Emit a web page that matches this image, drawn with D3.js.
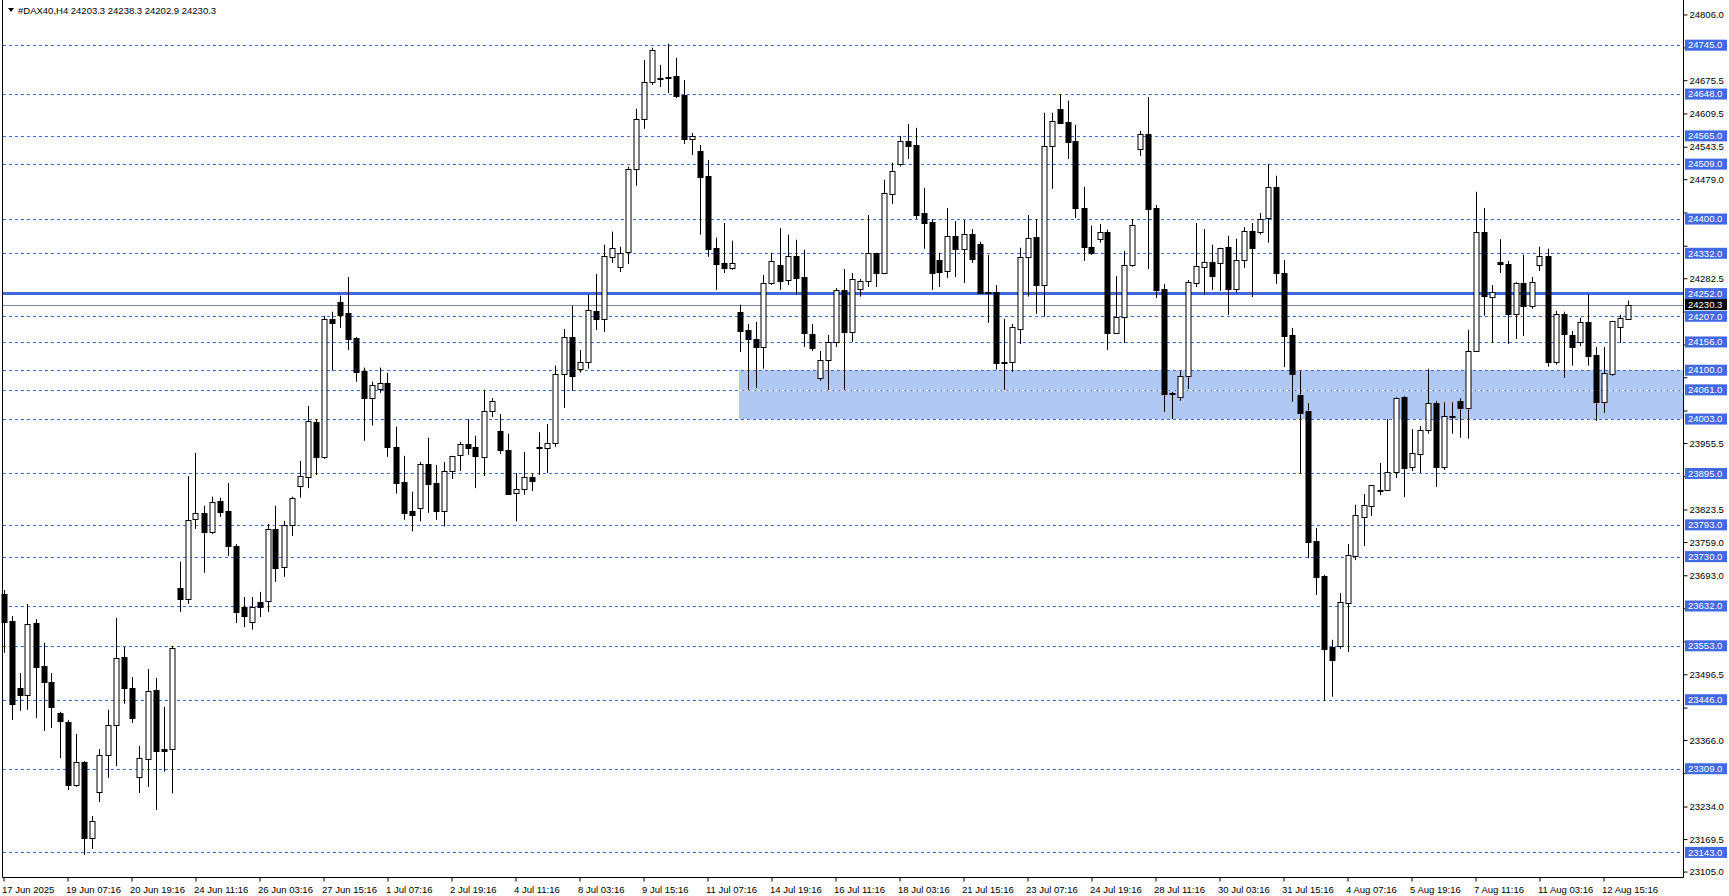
<!DOCTYPE html>
<html lang="en">
<head>
  <meta charset="UTF-8">
  <title>#DAX40,H4</title>
  <script src="https://d3js.org/d3.v7.min.js"></script>
  <style>
    body { margin: 0; background: #fff; }
    svg text { font-family: "Liberation Sans", Arial, sans-serif; font-size: 9.5px; }
  </style>
</head>
<body>
  <svg id="chart" width="1729" height="896"></svg>

  <script>
    // H4 candles, 17 Jun 2025 .. 12 Aug 2025
    const opens = [23656,23602,23469,23455,23598,23513,23481,23420,23402,23277,23322,23172,23263,23336,23396,23531,23469,23293,23328,23465,
      23348,23348,23668,23646,23805,23817,23779,23841,23821,23751,23630,23600,23640,23643,23785,23710,23793,23871,23888,23997,
      23928,24202,24236,24214,24164,24099,24045,24063,24075,23948,23878,23821,23827,23914,23876,23821,23900,23932,23954,23948,
      23928,24019,23980,23942,23857,23865,23888,23948,23946,23956,24093,24166,24103,24117,24218,24202,24325,24305,24335,24500,
      24599,24672,24680,24682,24684,24646,24559,24535,24486,24343,24313,24303,24216,24180,24162,24146,24273,24309,24279,24327,
      24285,24172,24085,24121,24156,24259,24176,24261,24277,24333,24293,24450,24509,24555,24547,24412,24394,24319,24297,24366,
      24341,24370,24351,24255,24255,24117,24117,24182,24325,24365,24269,24545,24619,24593,24555,24422,24345,24361,24375,24174,
      24206,24309,24539,24569,24422,24261,24055,24047,24089,24273,24305,24315,24313,24345,24261,24319,24377,24374,24402,24464,
      24293,24170,24051,24019,23761,23692,23551,23553,23638,23731,23809,23831,23862,23862,23898,24047,23908,23934,23981,24035,
      23908,24009,24039,24025,24138,24374,24246,24315,24311,24212,24273,24228,24309,24327,24117,24212,24170,24156,24196,24130,
      24037,24093,24186,24203.3];
    const highs = [23664,23612,23499,23636,23606,23559,23499,23422,23406,23378,23324,23215,23348,23426,23608,23551,23491,23354,23507,23489,
      23432,23553,23720,23890,23936,23831,23849,23847,23876,23755,23650,23650,23660,23795,23831,23801,23849,23920,24029,24003,
      24208,24216,24248,24285,24166,24105,24077,24105,24095,23988,23930,23859,23918,23966,23912,23918,23930,23958,24003,23970,
      24061,24045,24013,23974,23896,23938,23895,23977,23993,24109,24182,24228,24140,24250,24291,24349,24375,24345,24504,24619,
      24716,24740,24706,24748,24720,24676,24571,24547,24517,24363,24392,24357,24230,24192,24196,24289,24333,24382,24369,24359,
      24339,24192,24138,24170,24263,24301,24293,24281,24408,24333,24478,24512,24565,24589,24581,24462,24400,24333,24422,24396,
      24398,24380,24355,24329,24269,24202,24192,24343,24408,24400,24611,24611,24648,24635,24587,24464,24387,24390,24379,24287,
      24337,24400,24575,24642,24428,24271,24057,24099,24279,24392,24380,24349,24343,24367,24361,24384,24392,24412,24509,24486,
      24319,24184,24099,24035,23787,23694,23565,23658,23755,23833,23854,23872,23916,24003,24047,24049,23983,23989,24103,24039,
      24037,24037,24045,24180,24454,24422,24269,24360,24317,24275,24329,24285,24345,24341,24218,24216,24178,24204,24251,24146,
      24146,24198,24210,24238.3];
    const lows = [23539,23406,23424,23426,23410,23384,23390,23330,23267,23273,23138,23150,23243,23291,23314,23438,23400,23261,23273,23227,
      23303,23260,23620,23636,23785,23698,23775,23809,23731,23598,23590,23585,23610,23620,23680,23690,23771,23847,23866,23892,
      23924,24099,24184,24140,24077,23960,23990,24055,23928,23855,23803,23780,23800,23817,23803,23790,23884,23900,23932,23866,
      23890,24007,23934,23853,23800,23853,23860,23892,23896,23948,24025,24059,24095,24103,24180,24176,24313,24295,24311,24466,
      24579,24666,24662,24650,24640,24549,24527,24369,24325,24259,24293,24299,24136,24061,24065,24103,24269,24259,24269,24250,
      24146,24138,24079,24061,24146,24061,24156,24246,24265,24265,24293,24430,24504,24519,24400,24341,24259,24265,24283,24285,
      24273,24313,24253,24194,24101,24061,24097,24152,24246,24212,24206,24460,24591,24519,24402,24317,24329,24353,24140,24174,
      24154,24305,24525,24301,24243,24017,24003,24039,24063,24265,24250,24259,24257,24210,24253,24303,24245,24369,24353,24271,
      24106,24037,23894,23727,23654,23444,23452,23547,23541,23723,23751,23811,23852,23862,23886,23848,23900,23896,23974,23868,
      23902,23974,23966,23964,24138,24208,24154,24293,24152,24162,24168,24222,24297,24107,24111,24085,24109,24148,24109,23999,
      24015,24089,24154,24202.9];
    const closes = [23600,23438,23455,23596,23511,23481,23432,23404,23277,23322,23172,23205,23336,23396,23529,23469,23410,23330,23463,23344,
      23344,23549,23646,23803,23817,23779,23839,23819,23751,23620,23612,23630,23630,23785,23708,23793,23847,23891,23999,23928,
      24202,24194,24210,24162,24097,24045,24071,24075,23948,23876,23817,23813,23914,23874,23821,23900,23930,23954,23946,23930,
      24019,24039,23942,23855,23865,23888,23880,23946,23956,24093,24166,24089,24117,24220,24202,24327,24343,24333,24500,24599,
      24672,24736,24678,24680,24644,24559,24565,24484,24341,24311,24303,24313,24178,24162,24146,24273,24317,24277,24327,24283,
      24174,24144,24121,24156,24259,24176,24281,24277,24333,24293,24452,24496,24555,24545,24408,24392,24293,24295,24366,24341,
      24370,24321,24253,24255,24114,24117,24186,24325,24363,24269,24545,24595,24591,24553,24422,24345,24333,24375,24174,24206,
      24309,24389,24569,24420,24259,24053,24055,24089,24275,24307,24315,24287,24343,24261,24319,24377,24343,24400,24464,24293,
      24168,24093,24015,23759,23690,23547,23525,23640,23733,23813,23833,23872,23862,23898,24045,23906,23936,23981,24035,23908,
      24009,24009,24025,24138,24374,24246,24255,24311,24212,24273,24228,24275,24327,24117,24212,24172,24146,24196,24128,24037,
      24095,24198,24204,24230.3];

    // one label every 8 bars
    const timeLabels = ["17 Jun 2025","19 Jun 07:16","20 Jun 19:16","24 Jun 11:16","26 Jun 03:16","27 Jun 15:16","1 Jul 07:16",
      "2 Jul 19:16","4 Jul 11:16","8 Jul 03:16","9 Jul 15:16","11 Jul 07:16","14 Jul 19:16","16 Jul 11:16","18 Jul 03:16",
      "21 Jul 15:16","23 Jul 07:16","24 Jul 19:16","28 Jul 11:16","30 Jul 03:16","31 Jul 15:16","4 Aug 07:16","5 Aug 19:16",
      "7 Aug 11:16","11 Aug 03:16","12 Aug 15:16"];
    const priceTicks = [24806.0,24740.5,24675.5,24609.5,24543.5,24479.0,24413.0,24347.0,24282.5,24216.5,24151.0,24086.0,
      24020.0,23955.5,23889.5,23823.5,23759.0,23693.0,23627.5,23562.0,23496.5,23430.5,23366.0,23300.5,23234.0,23169.5,23105.0];
    const levels = [24745,24648,24565,24509,24400,24332,24207,24156,24100,24061,24003,23895,23793,23730,23632,23553,23446,23309,23143];
    const keyLevel = 24252;
    const lastPrice = 24230.3;
    const zone = { from: 92, low: 24003, high: 24100 };
    const title = "#DAX40,H4  24203.3 24238.3 24202.9 24230.3";

    const svg = d3.select("#chart");
    const plotRight = 1683, plotBottom = 877;
    const blue = "#4169e1";

    const x = d3.scaleLinear().domain([0, opens.length - 1]).range([3.5, 3.5 + 8 * (opens.length - 1)]);
    const y = d3.scaleLinear().domain([23143, 24745]).range([852.4, 45.2]);

    // zone
    svg.append("rect")
      .attr("x", x(zone.from) - 0.5).attr("y", y(zone.high))
      .attr("width", plotRight - x(zone.from) + 0.5).attr("height", y(zone.low) - y(zone.high))
      .attr("fill", "#b0c8f4");

    // dashed levels
    svg.selectAll(".lvl").data(levels).join("line")
      .attr("class", "lvl")
      .attr("x1", 3).attr("x2", plotRight)
      .attr("y1", d => Math.round(y(d)) + 0.5).attr("y2", d => Math.round(y(d)) + 0.5)
      .attr("stroke", blue).attr("stroke-dasharray", "3,3");
    svg.append("line")
      .attr("x1", x(zone.from)).attr("x2", plotRight)
      .attr("y1", Math.round(y(24061)) + 0.5).attr("y2", Math.round(y(24061)) + 0.5)
      .attr("stroke", "#fff").attr("stroke-dasharray", "3,3");

    svg.append("line").attr("x1", 3).attr("x2", plotRight)
      .attr("y1", y(keyLevel)).attr("y2", y(keyLevel))
      .attr("stroke", blue).attr("stroke-width", 3);
    svg.append("line").attr("x1", 3).attr("x2", plotRight)
      .attr("y1", Math.round(y(lastPrice)) + 0.5).attr("y2", Math.round(y(lastPrice)) + 0.5)
      .attr("stroke", "#778899");

    // candles
    const bars = d3.range(opens.length);
    svg.selectAll(".wick").data(bars).join("line")
      .attr("class", "wick")
      .attr("x1", i => Math.round(x(i)) + 0.5).attr("x2", i => Math.round(x(i)) + 0.5)
      .attr("y1", i => y(highs[i])).attr("y2", i => y(lows[i]))
      .attr("stroke", "#000");
    svg.selectAll(".body").data(bars).join("rect")
      .attr("class", "body")
      .attr("x", i => Math.round(x(i)) - 2)
      .attr("y", i => Math.round(y(Math.max(opens[i], closes[i]))) + 0.5)
      .attr("width", 5)
      .attr("height", i => Math.max(1, Math.round(Math.abs(y(opens[i]) - y(closes[i])))))
      .attr("fill", i => closes[i] > opens[i] ? "#fff" : "#000")
      .attr("stroke", "#000");

    // frame
    svg.append("path")
      .attr("d", `M2.5,0V${plotBottom + 0.5}H${plotRight + 0.5}V0`)
      .attr("fill", "none").attr("stroke", "#000");

    // price axis (labels hidden where a level tag sits on top, as in the terminal)
    const tagged = levels.concat([keyLevel, lastPrice]);
    const yAxis = d3.axisRight(y).tickValues(priceTicks).tickFormat(d3.format(".1f")).tickSize(4).tickPadding(2);
    const ya = svg.append("g").attr("transform", `translate(${plotRight + 0.5},0)`).call(yAxis);
    ya.select(".domain").remove();
    ya.selectAll("text").attr("fill", "#000").style("font-size", "9.5px")
      .style("display", d => tagged.some(v => Math.abs(y(v) - y(d)) < 10) ? "none" : null);

    // level tags
    const tags = svg.append("g");
    levels.concat([keyLevel]).forEach(v => {
      const g = tags.append("g").attr("transform", `translate(${plotRight + 2},${y(v)})`);
      g.append("rect").attr("x", 0).attr("y", -5.5).attr("width", 42).attr("height", 11).attr("fill", blue);
      g.append("text").attr("x", 3).attr("dy", "0.34em").attr("fill", "#fff").text(v.toFixed(1));
    });
    const lp = tags.append("g").attr("transform", `translate(${plotRight + 2},${y(lastPrice)})`);
    lp.append("rect").attr("x", 0).attr("y", -5.5).attr("width", 42).attr("height", 11).attr("fill", "#000");
    lp.append("text").attr("x", 3).attr("dy", "0.34em").attr("fill", "#fff").text(lastPrice.toFixed(1));

    // time axis
    const xAxis = d3.axisBottom(x).tickValues(timeLabels.map((d, k) => k * 8))
      .tickFormat((d, k) => timeLabels[k]).tickSize(4);
    const xa = svg.append("g").attr("transform", `translate(0,${plotBottom + 0.5})`).call(xAxis);
    xa.select(".domain").remove();
    xa.selectAll("text").attr("text-anchor", "start").attr("x", -2).attr("dy", "0.9em")
      .attr("fill", "#000").style("font-size", "9.5px");

    // title
    svg.append("path").attr("d", "M8,8 L14,8 L11,12 Z").attr("fill", "#000");
    svg.append("text").attr("x", 18).attr("y", 14).attr("fill", "#000").text(title);
  </script>
</body>
</html>
